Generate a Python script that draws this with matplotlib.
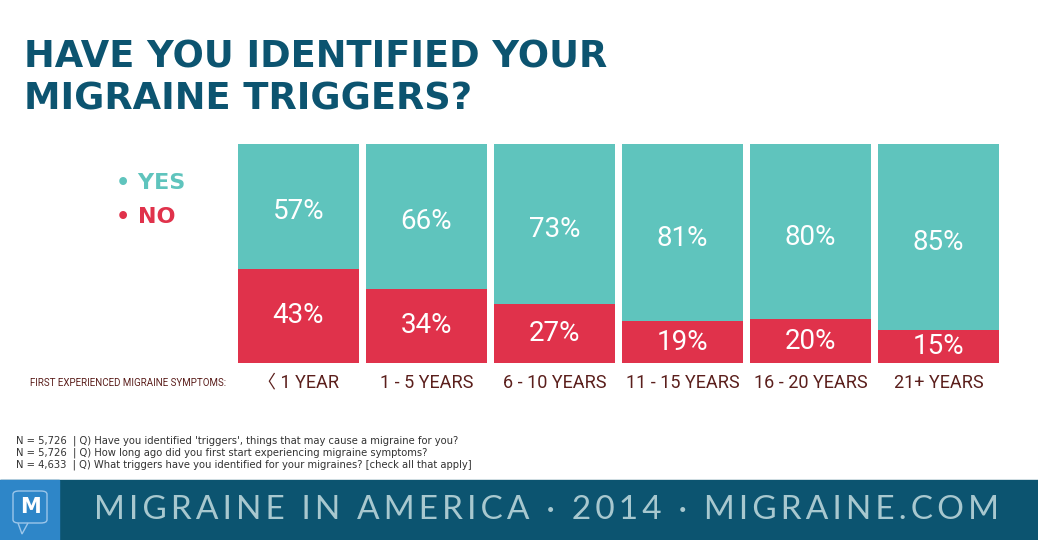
import matplotlib.pyplot as plt
from matplotlib.patches import Rectangle, FancyBboxPatch, Polygon

# data
categories = ['〈 1 YEAR', '1 - 5 YEARS', '6 - 10 YEARS', '11 - 15 YEARS', '16 - 20 YEARS', '21+ YEARS']
yes_pct = [57, 66, 73, 81, 80, 85]
no_pct = [43, 34, 27, 19, 20, 15]

TEAL = '#5fc4bd'
RED = '#e0324b'
NAVY = '#0c5470'
BROWN = '#5b1f1c'
NARROW = ['Roboto', 'DejaVu Sans', 'Noto Sans CJK SC']

W, H = 1038, 540
fig = plt.figure(figsize=(W / 100, H / 100), dpi=100)
fig.patch.set_facecolor('white')

def fx(px):
    return px / W

def fy(py):
    return 1 - py / H

# bars
ax = fig.add_axes([fx(238), fy(363), fx(999) - fx(238), fy(144) - fy(363)])
x = range(len(categories))
ax.bar(x, no_pct, width=0.945, color=RED)
ax.bar(x, yes_pct, bottom=no_pct, width=0.945, color=TEAL)
ax.set_xlim(-0.4725, len(categories) - 0.5275)
ax.set_ylim(0, 100)
ax.axis('off')

for i in x:
    ax.text(i, no_pct[i] + yes_pct[i] / 2 - 2.5, f'{yes_pct[i]}%', ha='center', va='center',
            color='white', fontsize=20, family=NARROW)
    ax.text(i, no_pct[i] / 2, f'{no_pct[i]}%', ha='center', va='center',
            color='white', fontsize=20, family=NARROW)
    ax.text(i, -9, categories[i], ha='center', va='center', color=BROWN,
            fontsize=13, family=NARROW)

fig.text(fx(226), fy(383), 'FIRST EXPERIENCED MIGRAINE SYMPTOMS:', ha='right', va='center',
         color=BROWN, fontsize=7, family=NARROW)

# title
fig.text(fx(24), fy(57), 'HAVE YOU IDENTIFIED YOUR', ha='left', va='center',
         color=NAVY, fontsize=26.5, fontweight='bold', family='DejaVu Sans')
fig.text(fx(24), fy(99), 'MIGRAINE TRIGGERS?', ha='left', va='center',
         color=NAVY, fontsize=26.5, fontweight='bold', family='DejaVu Sans')

# legend
fig.text(fx(116), fy(183), '• YES', ha='left', va='center', color=TEAL,
         fontsize=16, fontweight='bold', family='DejaVu Sans')
fig.text(fx(116), fy(217), '• NO', ha='left', va='center', color=RED,
         fontsize=16, fontweight='bold', family='DejaVu Sans')

# footnotes
notes = [
    "N = 5,726  | Q) Have you identified 'triggers', things that may cause a migraine for you?",
    "N = 5,726  | Q) How long ago did you first start experiencing migraine symptoms?",
    "N = 4,633  | Q) What triggers have you identified for your migraines? [check all that apply]",
]
for k, n in enumerate(notes):
    fig.text(fx(16), fy(441 + 12 * k), n, ha='left', va='center', color='#333333',
             fontsize=7.2, family='DejaVu Sans')

# footer band
fig.patches.append(Rectangle((0, 0), 1, fy(480), transform=fig.transFigure,
                             color=NAVY, zorder=0))
fig.patches.append(Rectangle((0, 0), fx(59), fy(480), transform=fig.transFigure,
                             color='#2e86c8', zorder=1))
fig.patches.append(FancyBboxPatch((fx(13), fy(523)), fx(34), fy(491) - fy(523),
                                  boxstyle='round,pad=0,rounding_size=0.006',
                                  transform=fig.transFigure, fill=False,
                                  edgecolor='#9cc6ea', linewidth=1, zorder=2))
fig.patches.append(Polygon([(fx(18), fy(523)), (fx(22), fy(534)), (fx(28), fy(523))],
                           closed=False, transform=fig.transFigure, fill=False,
                           edgecolor='#9cc6ea', linewidth=1, zorder=2))
fig.text(fx(30), fy(507), 'M', ha='center', va='center', color='white',
         fontsize=15, fontweight='bold', family='DejaVu Sans')
footer = 'MIGRAINE IN AMERICA · 2014 · MIGRAINE.COM'
fig.text(fx(94), fy(510), '\u2009'.join(footer), ha='left', va='center',
         color='#a8c8cf', fontsize=24, fontweight='normal', family=['Lato', 'DejaVu Sans'])

fig.savefig('out.png', dpi=100)
